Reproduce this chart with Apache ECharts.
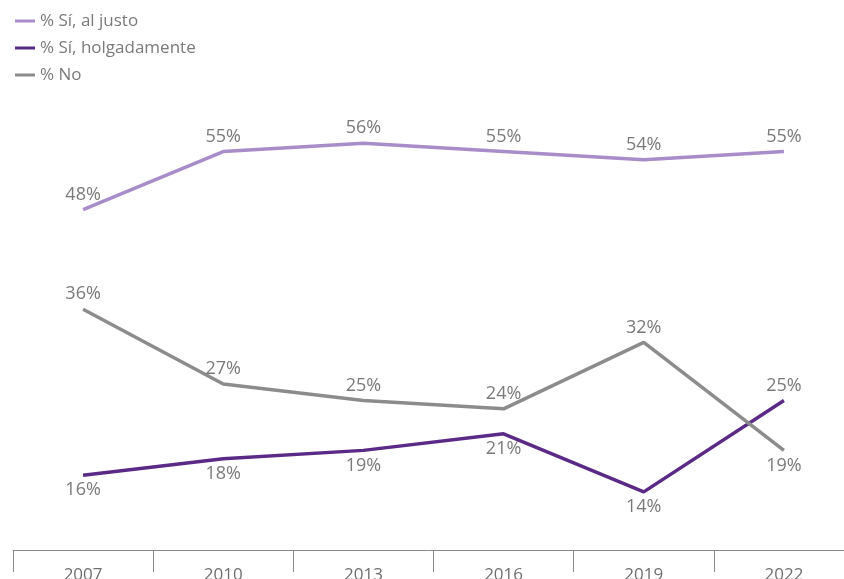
<!DOCTYPE html>
<html>
<head>
<meta charset="utf-8">
<script src="https://cdn.jsdelivr.net/npm/echarts@6/dist/echarts.min.js"></script>
<style>
    html, body { margin: 0; padding: 0; background: #fff; }
    #chart { width: 844px; height: 579px; }
</style>
</head>
<body>
<div id="chart"></div>
<script>
const years = ['2007', '2010', '2013', '2016', '2019', '2022'];
const siAlJusto = [48, 55, 56, 55, 54, 55];
const siHolgadamente = [16, 18, 19, 21, 14, 25];
const no = [36, 27, 25, 24, 32, 19];

const labelFont = '"Open Sans", sans-serif';

// labels sit above or below the line, with a couple of exceptions at the end
function withLabels(values, pos, lastPos) {
    return values.map(function (v, i) {
        return {
            value: v,
            label: { position: (i === values.length - 1 && lastPos) ? lastPos : pos }
        };
    });
}

function lineSeries(name, color, data) {
    return {
        name: name,
        type: 'line',
        data: data,
        symbol: 'circle',
        symbolSize: 0,
        showSymbol: true,
        lineStyle: { width: 3.5, color: color },
        itemStyle: { color: color },
        label: {
            show: true,
            distance: 6,
            color: '#7a7a7a',
            fontSize: 18,
            fontFamily: labelFont,
            formatter: '{c}%'
        },
        emphasis: { disabled: true }
    };
}

var chart = echarts.init(document.getElementById('chart'));
chart.setOption({
    animation: false,
    legend: {
        orient: 'vertical',
        left: 10,
        top: 6,
        itemWidth: 20,
        itemHeight: 3,
        itemGap: 7,
        icon: 'rect',
        textStyle: {
            color: '#7a7a7a',
            fontSize: 17,
            lineHeight: 20,
            fontFamily: labelFont
        },
        data: ['% Sí, al justo', '% Sí, holgadamente', '% No']
    },
    grid: {
        left: 13,
        right: -10,
        top: 110,
        bottom: 29,
        outerBoundsMode: 'none',
        containLabel: false
    },
    xAxis: {
        type: 'category',
        data: years,
        boundaryGap: true,
        axisLine: { lineStyle: { color: '#8a8a8a', width: 1 } },
        axisTick: { show: true, length: 22, lineStyle: { color: '#8a8a8a' } },
        axisLabel: {
            margin: 17,
            color: '#6f6f6f',
            fontSize: 17,
            fontFamily: labelFont
        }
    },
    yAxis: {
        type: 'value',
        min: 7,
        max: 60,
        show: false,
        splitLine: { show: false }
    },
    series: [
        lineSeries('% Sí, al justo', '#a98dc8', withLabels(siAlJusto, 'top')),
        lineSeries('% Sí, holgadamente', '#5b2a86', withLabels(siHolgadamente, 'bottom', 'top')),
        lineSeries('% No', '#8c8c8c', withLabels(no, 'top', 'bottom'))
    ]
});
</script>
</body>
</html>
